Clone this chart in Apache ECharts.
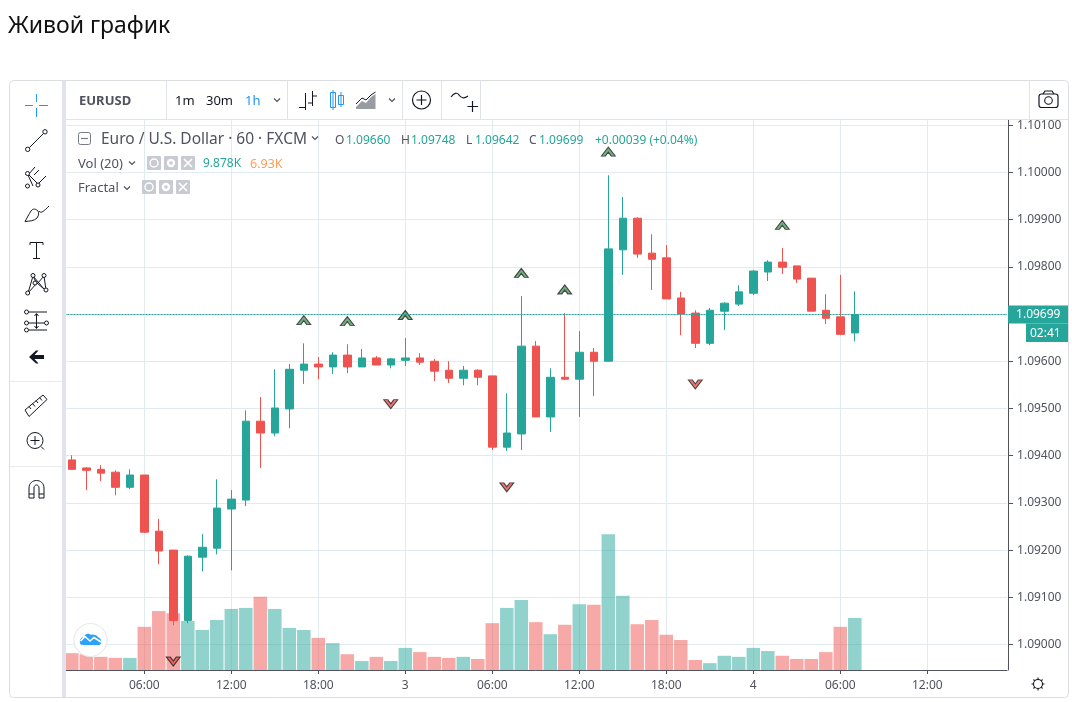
<!DOCTYPE html>
<html>
<head>
<meta charset="utf-8">
<title>Живой график</title>
<script src="https://cdn.jsdelivr.net/npm/echarts@6/dist/echarts.min.js"></script>
<style>
html, body { margin: 0; padding: 0; background: #fff; }
#chart { width: 1072px; height: 702px; }
</style>
</head>
<body>
<div id="chart"></div>
<script>
const categories = [
    '01:00', '02:00', '03:00', '04:00', '05:00', '06:00', '07:00', '08:00', '09:00', '10:00', '11:00', '12:00',
    '13:00', '14:00', '15:00', '16:00', '17:00', '18:00', '19:00', '20:00', '21:00', '22:00', '23:00', '3',
    '01:00', '02:00', '03:00', '04:00', '05:00', '06:00', '07:00', '08:00', '09:00', '10:00', '11:00', '12:00',
    '13:00', '14:00', '15:00', '16:00', '17:00', '18:00', '19:00', '20:00', '21:00', '22:00', '23:00', '4',
    '01:00', '02:00', '03:00', '04:00', '05:00', '06:00', '07:00', '08:00', '09:00', '10:00', '11:00', '12:00',
    '13:00', '14:00', '15:00', '16:00', '17:00'
];
const opens = [
    1.09391, 1.09374, 1.09371, 1.09365, 1.09333, 1.09359, 1.09240, 1.09200, 1.09051, 1.09185, 1.09204,
    1.09287, 1.09306, 1.09473, 1.09448, 1.09499, 1.09581, 1.09594, 1.09588, 1.09613, 1.09588, 1.09607,
    1.09592, 1.09602, 1.09607, 1.09600, 1.09581, 1.09564, 1.09581, 1.09569, 1.09418, 1.09446, 1.09632,
    1.09482, 1.09566, 1.09562, 1.09619, 1.09600, 1.09836, 1.09903, 1.09829, 1.09819, 1.09734, 1.09702,
    1.09638, 1.09706, 1.09721, 1.09744, 1.09789, 1.09810, 1.09802, 1.09776, 1.09708, 1.09694, 1.09660
];
const closes = [
    1.09371, 1.09369, 1.09363, 1.09333, 1.09359, 1.09238, 1.09198, 1.09051, 1.09187, 1.09206, 1.09289,
    1.09308, 1.09473, 1.09448, 1.09501, 1.09583, 1.09594, 1.09588, 1.09613, 1.09588, 1.09607, 1.09592,
    1.09605, 1.09607, 1.09598, 1.09579, 1.09564, 1.09581, 1.09566, 1.09418, 1.09448, 1.09632, 1.09482,
    1.09566, 1.09562, 1.09619, 1.09600, 1.09838, 1.09903, 1.09827, 1.09816, 1.09732, 1.09700, 1.09638,
    1.09708, 1.09723, 1.09747, 1.09791, 1.09810, 1.09799, 1.09774, 1.09706, 1.09691, 1.09657, 1.09699
];
const lows = [
    1.09371, 1.09327, 1.09346, 1.09316, 1.09329, 1.09236, 1.09170, 1.09041, 1.09045, 1.09155, 1.09191,
    1.09157, 1.09293, 1.09374, 1.09441, 1.09458, 1.09552, 1.09562, 1.09573, 1.09575, 1.09588, 1.09592,
    1.09585, 1.09590, 1.09592, 1.09558, 1.09554, 1.09549, 1.09549, 1.09412, 1.09410, 1.09412, 1.09482,
    1.09450, 1.09560, 1.09482, 1.09526, 1.09600, 1.09783, 1.09819, 1.09751, 1.09732, 1.09655, 1.09628,
    1.09634, 1.09666, 1.09717, 1.09740, 1.09770, 1.09785, 1.09766, 1.09706, 1.09679, 1.09655, 1.09642
];
const highs = [
    1.09401, 1.09376, 1.09380, 1.09369, 1.09371, 1.09359, 1.09266, 1.09200, 1.09189, 1.09234, 1.09350,
    1.09327, 1.09496, 1.09524, 1.09583, 1.09594, 1.09638, 1.09609, 1.09619, 1.09636, 1.09626, 1.09611,
    1.09607, 1.09649, 1.09617, 1.09605, 1.09600, 1.09590, 1.09583, 1.09569, 1.09532, 1.09738, 1.09643,
    1.09585, 1.09702, 1.09664, 1.09628, 1.09994, 1.09948, 1.09905, 1.09869, 1.09846, 1.09747, 1.09708,
    1.09713, 1.09725, 1.09761, 1.09793, 1.09814, 1.09840, 1.09802, 1.09776, 1.09742, 1.09783, 1.09748
];
const volumes = [
    3.2, 3.0, 2.5, 2.3, 2.3, 8.2, 11.2, 10.8, 9.3, 7.6, 9.5, 11.6, 11.8, 13.9,
    11.6, 8.0, 7.6, 6.1, 5.1, 3.0, 1.7, 2.5, 1.7, 4.2, 3.4, 2.5, 2.3, 2.5,
    2.1, 8.9, 11.8, 13.3, 9.1, 6.8, 8.6, 12.5, 12.4, 25.8, 14.1, 8.7, 9.5, 6.7,
    5.7, 1.9, 1.3, 2.7, 2.5, 4.2, 3.6, 2.7, 2.1, 2.1, 3.4, 8.2, 9.878
];
// fractal markers: index of the candle and price level
const fractalUpIndex = [16, 19, 23, 31, 34, 37, 49];
const fractalUpPrice = [1.09687, 1.09685, 1.09698, 1.09787, 1.09752, 1.10044, 1.09889];
const fractalDownIndex = [7, 22, 30, 43];
const fractalDownPrice = [1.08964, 1.09509, 1.09333, 1.09551];
const priceTicks = [1.09, 1.091, 1.092, 1.093, 1.094, 1.095, 1.096, 1.097, 1.098, 1.099, 1.10, 1.101];
const lastPrice = 1.09699;

const UP = '#26a69a';
const DOWN = '#ef5350';
const FONT = '"Noto Sans", sans-serif';
const TEXT = '#50535e';

const candleData = opens.map((o, i) => [o, closes[i], lows[i], highs[i]]);
const volumeData = volumes.map((v, i) => ({
    value: v,
    itemStyle: { color: closes[i] >= opens[i] ? UP : DOWN, opacity: 0.5 }
}));
const everySixth = (index) => index % 6 === 5;

// graphic has no plain path type, so every icon path gets registered as its own shape
let iconCount = 0;
const pathType = (d) => {
    const name = 'toolIcon' + (iconCount++);
    echarts.graphic.registerShape(name, echarts.graphic.extendPath(d, {}));
    return name;
};
const label = (text, x, y, fill, size, weight) => ({
    type: 'text', x: x, y: y, z: 110,
    style: { text: text, fill: fill || TEXT, font: (weight || 'normal') + ' ' + (size || 12) + 'px ' + FONT, textVerticalAlign: 'middle' }
});
const line = (d, color, width) => ({
    type: pathType(d), z: 110,
    style: { fill: 'none', stroke: color || '#131722', lineWidth: width || 1 }
});
const solid = (d, color) => ({
    type: pathType(d), z: 110,
    style: { fill: color, stroke: 'none' }
});
const box = (x, y, w, h, color) => ({
    type: 'rect', z: 100, shape: { x: x, y: y, width: w, height: h }, style: { fill: color }
});
const dot = (cx, cy, r) => ({
    type: 'circle', z: 110, shape: { cx: cx, cy: cy, r: r || 2 }, style: { fill: '#fff', stroke: '#131722' }
});
const chevron = (x, y, color) => line('M' + (x - 3) + ' ' + (y - 1.5) + 'L' + x + ' ' + (y + 1.5) + 'L' + (x + 3) + ' ' + (y - 1.5), color || '#131722', 1.2);
const miniButtons = (x, y) => {
    const out = [];
    [0, 17, 34].forEach((dx, i) => {
        out.push({ type: 'rect', z: 110, shape: { x: x + dx, y: y, width: 14, height: 14, r: 1 }, style: { fill: '#c9cbd3' } });
        if (i === 0) out.push({ type: 'circle', z: 111, shape: { cx: x + dx + 7, cy: y + 7, r: 4 }, style: { fill: 'none', stroke: '#fff', lineWidth: 1.4 } });
        if (i === 1) out.push({ type: 'circle', z: 111, shape: { cx: x + dx + 7, cy: y + 7, r: 3 }, style: { fill: 'none', stroke: '#fff', lineWidth: 2.4 } });
        if (i === 2) out.push(Object.assign(line('M' + (x + dx + 3) + ' ' + (y + 3) + 'l8 8m0 -8l-8 8', '#fff', 1.6), { z: 111 }));
    });
    return out;
};

const chrome = [
    // frame and panels
    { type: 'rect', z: 99, shape: { x: 9.5, y: 80.5, width: 1059, height: 617, r: 4 }, style: { fill: 'none', stroke: '#dcdde1', lineWidth: 1 } },
    box(62, 81, 4, 616, '#e0e3eb'),
    box(66, 119, 1002, 1, '#e0e3eb'),
    box(166, 81, 1, 38, '#e0e3eb'),
    box(287, 81, 1, 38, '#e0e3eb'),
    box(402, 81, 1, 38, '#e0e3eb'),
    box(441, 81, 1, 38, '#e0e3eb'),
    box(480, 81, 1, 38, '#e0e3eb'),
    box(1029, 81, 1, 38, '#e0e3eb'),
    box(10, 381, 52, 1, '#e8e9ed'),
    box(10, 466, 52, 1, '#e8e9ed'),
    // left tools
    line('M25 105.5H33M39 105.5H48M36.5 94V102M36.5 108V117', '#2196f3'),
    line('M29.5 147.5L43.5 133.5'),
    dot(27.7, 149.3, 2.2),
    dot(45, 131.8, 2.2),
    line('M35 167L28 175L33 186M26 172L39 185M46 176L38 184M39 170L34 175'),
    dot(27.5, 186),
    dot(38, 185),
    dot(27.5, 173.5),
    line('M25 221.5C30 221 34 221 37 218C39 215 39 213 38 211C36 209 33 208 31 211C29 214 27 218 25 221.5ZM39 211C41 214 44 211 49 206'),
    line('M30 245V242.5H43V245M36.5 242.5V258M33 258.5H40'),
    line('M28 293L33 276L37 284L44 276L46 290M28 293L37 283L44 289M33 276L44 289'),
    dot(27.7, 293),
    dot(33, 275.5),
    dot(44, 275.5),
    dot(46, 290),
    dot(35, 283),
    line('M29 312H47M29 330H47M28 323H44M36.5 314V328M34.5 316L36.5 313.5L38.5 316M34.5 326L36.5 328.5L38.5 326'),
    dot(26.5, 312),
    dot(26.5, 323),
    dot(46.5, 323),
    dot(26.5, 330),
    solid('M29 357L36 350.5L38.5 350.5L34.5 355H44V359H34.5L38.5 363.5L36 363.5Z', '#131722'),
    line('M25 410L43 395L47 399.5L29 416.5ZM29 406.5L31 409M32.5 403.5L35 406.5M36 400.5L38 403M39.5 397.5L42 400.5'),
    { type: 'circle', z: 110, shape: { cx: 35, cy: 440.5, r: 8 }, style: { fill: 'none', stroke: '#131722' } },
    line('M41 446.5L44 449.5M35 436V445M30.5 440.5H39.5'),
    line('M29 498V488C29 478 44 478 44 488V498H39V488C39 484 34 484 34 488V498ZM29 494H34M39 494H44'),
    // top bar
    label('EURUSD', 79, 101, TEXT, 13, 'bold'),
    label('1m', 175, 101, '#131722', 13),
    label('30m', 206, 101, '#131722', 13),
    label('1h', 245, 101, '#2196f3', 13),
    chevron(277, 100, TEXT),
    line('M305.5 93V110M299 107.5H305.5M312.5 91V106M312.5 96H317M312.5 103H308', '#131722'),
    line('M330.5 92.5H335.5V107.5H330.5ZM333 90V110M338.5 95.5H343.5V104.5H338.5ZM341 92V107', '#2196f3'),
    solid('M356 107L362 101L366 103L371 97L375.5 94V109H356Z', '#9a9ca3'),
    line('M356 104L362 98L366 100L371 95L375.5 92', '#131722'),
    chevron(392, 100, TEXT),
    { type: 'circle', z: 110, shape: { cx: 421.5, cy: 100, r: 9 }, style: { fill: 'none', stroke: '#131722', lineWidth: 1.2 } },
    line('M416.5 100H426.5M421.5 95V105', '#131722', 1.2),
    line('M451 97C454 93 457 92 459 95C461 98 464 99 468 96', '#131722', 1.2),
    line('M467.5 106.5H478M472.5 101V112', '#131722', 1.2),
    { type: 'rect', z: 110, shape: { x: 1039, y: 94, width: 19, height: 13.5, r: 2.5 }, style: { fill: 'none', stroke: '#131722', lineWidth: 1.2 } },
    line('M1043 94L1045 91H1052L1054 94', '#131722', 1.2),
    { type: 'circle', z: 110, shape: { cx: 1048.5, cy: 100.5, r: 3.8 }, style: { fill: 'none', stroke: '#131722', lineWidth: 1.1 } },
    // legend
    { type: 'rect', z: 110, shape: { x: 78.5, y: 132.5, width: 12, height: 12, r: 2 }, style: { fill: 'none', stroke: '#787b86' } },
    line('M81 138.5H88', '#787b86', 1.2),
    label('Euro / U.S. Dollar · 60 · FXCM', 101, 140, TEXT, 15.5),
    chevron(315, 138, TEXT),
    label('O', 335, 141, TEXT, 12),
    label('1.09660', 346, 141, UP, 12),
    label('H', 401, 141, TEXT, 12),
    label('1.09748', 411, 141, UP, 12),
    label('L', 466, 141, TEXT, 12),
    label('1.09642', 475, 141, UP, 12),
    label('C', 529, 141, TEXT, 12),
    label('1.09699', 539, 141, UP, 12),
    label('+0.00039 (+0.04%)', 595, 141, UP, 12),
    label('Vol (20)', 78, 164, TEXT, 13),
    chevron(132, 163, TEXT),
    ...miniButtons(147, 156),
    label('9.878K', 203, 164, UP, 12),
    label('6.93K', 250, 164, '#ff9e58', 12.5),
    label('Fractal', 78, 188, TEXT, 13),
    chevron(127, 188, TEXT),
    ...miniButtons(142, 180),
    // countdown tag under the price tag
    box(1026, 323.5, 42, 18.5, UP),
    Object.assign(label('02:41', 1030, 334, '#ffffff', 12), { z: 111 }),
    // cloud logo
    { type: 'circle', z: 105, shape: { cx: 90.5, cy: 640, r: 16.5 }, style: { fill: '#fff', stroke: '#eaeaea', lineWidth: 1.2 } },
    solid('M80 643C79 639 82 637 84 637C85 633 89 633 91 635C93 634 97 635 98 637C100 638 102 640 101 643C101 645 99 645 98 645H83C81 645 80 644 80 643Z', '#2ca3f6'),
    line('M80.5 641L85 636.5L90 641L94 637.5L101 642', '#ffffff', 1.6),
    // gear
    { type: 'circle', z: 110, shape: { cx: 1038, cy: 684, r: 4.5 }, style: { fill: 'none', stroke: '#131722', lineWidth: 1.1 } },
    line('M1038 677.5V679.5M1038 688.5V690.5M1031.5 684H1033.5M1042.5 684H1044.5M1033.5 679.5L1034.8 680.8M1041.2 687.2L1042.5 688.5M1042.5 679.5L1041.2 680.8M1034.8 687.2L1033.5 688.5', '#131722', 1.1)
];

const chart = echarts.init(document.getElementById('chart'));
chart.setOption({
    animation: false,
    title: {
        text: 'Живой график', left: 3, top: 10,
        textStyle: { fontFamily: FONT, fontSize: 23, fontWeight: 'normal', color: '#111' }
    },
    grid: { left: 64.55, top: 120, width: 942.5, height: 550, containLabel: false },
    xAxis: {
        type: 'category',
        data: categories,
        boundaryGap: true,
        axisLine: { show: true, lineStyle: { color: TEXT, width: 1 } },
        axisTick: { show: true, alignWithLabel: true, interval: everySixth, length: 4, lineStyle: { color: TEXT } },
        axisLabel: { interval: everySixth, color: TEXT, fontFamily: FONT, fontSize: 12, margin: 10 },
        splitLine: { show: true, alignWithLabel: true, interval: everySixth, lineStyle: { color: '#e1eaf1', width: 1 } }
    },
    yAxis: [{
        type: 'value',
        position: 'right',
        offset: 1,
        min: 1.08946,
        max: 1.10111,
        scale: true,
        axisLine: { show: true, onZero: false, lineStyle: { color: TEXT, width: 1 } },
        axisTick: { show: true, customValues: priceTicks, length: 5, lineStyle: { color: TEXT } },
        axisLabel: {
            customValues: priceTicks, color: TEXT, fontFamily: FONT, fontSize: 12, margin: 9,
            formatter: (v) => v.toFixed(5)
        },
        splitLine: { show: true, lineStyle: { color: '#e1eaf1', width: 1 } }
    }, {
        // volume overlay, same pane, no scale drawn
        type: 'value',
        min: 0,
        max: 104.5,
        show: false,
        splitLine: { show: false }
    }],
    series: [{
        name: 'Vol',
        type: 'bar',
        yAxisIndex: 1,
        barWidth: 13.5,
        data: volumeData,
        silent: true,
        z: 1
    }, {
        name: 'EURUSD',
        type: 'candlestick',
        yAxisIndex: 0,
        barWidth: 8,
        data: candleData,
        z: 2,
        itemStyle: { color: UP, color0: DOWN, borderColor: UP, borderColor0: DOWN, borderWidth: 1 },
        markLine: {
            silent: true,
            symbol: 'none',
            animation: false,
            precision: 5,
            z: 4,
            data: [{ yAxis: lastPrice }],
            lineStyle: { color: UP, type: [2, 1], width: 1 },
            label: {
                position: 'end', distance: 1,
                formatter: lastPrice.toFixed(5),
                color: '#fff', fontFamily: FONT, fontSize: 12,
                backgroundColor: UP, padding: [3, 8, 3, 8]
            }
        }
    }, {
        name: 'Fractal up',
        type: 'scatter',
        yAxisIndex: 0,
        symbol: 'path://M0 9L7 0L14 9L10 9L7 5L4 9Z',
        symbolSize: [14, 9],
        clip: false,
        silent: true,
        z: 3,
        itemStyle: { color: '#4f9a5e', borderColor: '#232323', borderWidth: 1 },
        data: fractalUpIndex.map((x, i) => [x, fractalUpPrice[i]])
    }, {
        name: 'Fractal down',
        type: 'scatter',
        yAxisIndex: 0,
        symbol: 'path://M0 0L7 9L14 0L10 0L7 4L4 0Z',
        symbolSize: [14, 9],
        clip: false,
        silent: true,
        z: 3,
        itemStyle: { color: '#e25552', borderColor: '#232323', borderWidth: 1 },
        data: fractalDownIndex.map((x, i) => [x, fractalDownPrice[i]])
    }],
    graphic: chrome
});
window.addEventListener('resize', function () {
    chart.resize();
});
</script>
</body>
</html>
